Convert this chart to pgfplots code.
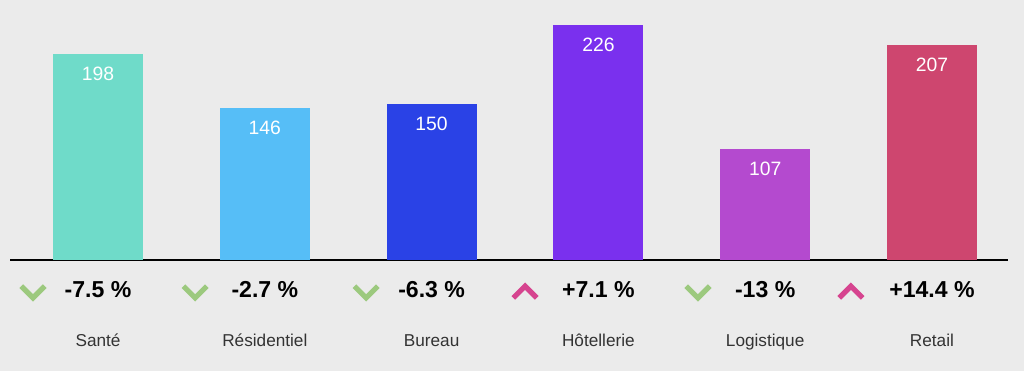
\documentclass[border=0pt]{standalone}
\usepackage{pgfplots}
\pgfplotsset{compat=1.18}
\usepackage{fontspec}
\setmainfont{Liberation Sans}
\definecolor{bg}{HTML}{EBEBEB}
\definecolor{c1}{HTML}{6FDBC9}
\definecolor{c2}{HTML}{56BEF7}
\definecolor{c3}{HTML}{2A42E6}
\definecolor{c4}{HTML}{7A30EE}
\definecolor{c5}{HTML}{B44ACF}
\definecolor{c6}{HTML}{CE466F}
\definecolor{cdown}{HTML}{9CC97E}
\definecolor{cup}{HTML}{D6448F}
\pgfdeclareplotmark{chevdown}{%
  \pgfsetlinewidth{3.9pt}\pgfsetmiterjoin\pgfsetbuttcap
  \pgfpathmoveto{\pgfqpoint{-8.8pt}{4.4pt}}%
  \pgfpathlineto{\pgfqpoint{0pt}{-4.4pt}}%
  \pgfpathlineto{\pgfqpoint{8.8pt}{4.4pt}}%
  \pgfusepathqstroke}
\pgfdeclareplotmark{chevup}{%
  \pgfsetlinewidth{3.9pt}\pgfsetmiterjoin\pgfsetbuttcap
  \pgfpathmoveto{\pgfqpoint{-8.8pt}{-4.4pt}}%
  \pgfpathlineto{\pgfqpoint{0pt}{4.4pt}}%
  \pgfpathlineto{\pgfqpoint{8.8pt}{-4.4pt}}%
  \pgfusepathqstroke}
\begin{document}
\begin{tikzpicture}
\fill[bg] (0,0) rectangle (768pt,278.25pt);
\useasboundingbox (0,0) rectangle (768pt,278.25pt);
\begin{axis}[
  at={(7.5pt,83.25pt)}, anchor=south west,
  scale only axis, width=748.5pt, height=195pt,
  xmin=-0.528, xmax=5.456, ymin=0, ymax=250,
  clip=false,
  axis x line*=bottom, axis y line=none,
  x axis line style={-, black, line width=0.9pt},
  xtick={0,1,2,3,4,5},
  xticklabels={Santé,Résidentiel,Bureau,Hôtellerie,Logistique,Retail},
  major tick length=0pt,
  xticklabel style={anchor=base, yshift=-64.5pt, inner sep=0pt, text=black!80, font=\fontsize{12.9}{15}\selectfont},
  barstyle/.style={ybar, bar width=67.5pt, bar shift=0pt, draw=none,
    nodes near coords, nodes near coords align=center,
    /pgf/number format/assume math mode=true,
    every node near coord/.append style={text=white, yshift=-15pt, font=\fontsize{14.5}{16}\selectfont}},
]
\addplot[barstyle, fill=c1] coordinates {(0,198)};
\addplot[barstyle, fill=c2] coordinates {(1,146)};
\addplot[barstyle, fill=c3] coordinates {(2,150)};
\addplot[barstyle, fill=c4] coordinates {(3,226)};
\addplot[barstyle, fill=c5] coordinates {(4,107)};
\addplot[barstyle, fill=c6] coordinates {(5,207)};
% chevrons
\addplot[only marks, mark=chevdown, color=cdown] coordinates {(-0.39,-30.8) (0.582,-30.8) (1.607,-30.8) (3.597,-30.8)};
\addplot[only marks, mark=chevup, color=cup] coordinates {(2.56,-30.8) (4.514,-30.8)};
% percentages
\addplot[only marks, mark=none, point meta=explicit symbolic,
  nodes near coords, nodes near coords align=center,
  every node near coord/.append style={text=black, inner sep=0pt, font=\bfseries\fontsize{17.3}{20}\selectfont}]
  coordinates {(0,-28.8) [{-7.5 \%}] (1,-28.8) [{-2.7 \%}] (2,-28.8) [{-6.3 \%}]
               (3,-28.8) [{+7.1 \%}] (4,-28.8) [{-13 \%}] (5,-28.8) [{+14.4 \%}]};
\end{axis}
\end{tikzpicture}
\end{document}
